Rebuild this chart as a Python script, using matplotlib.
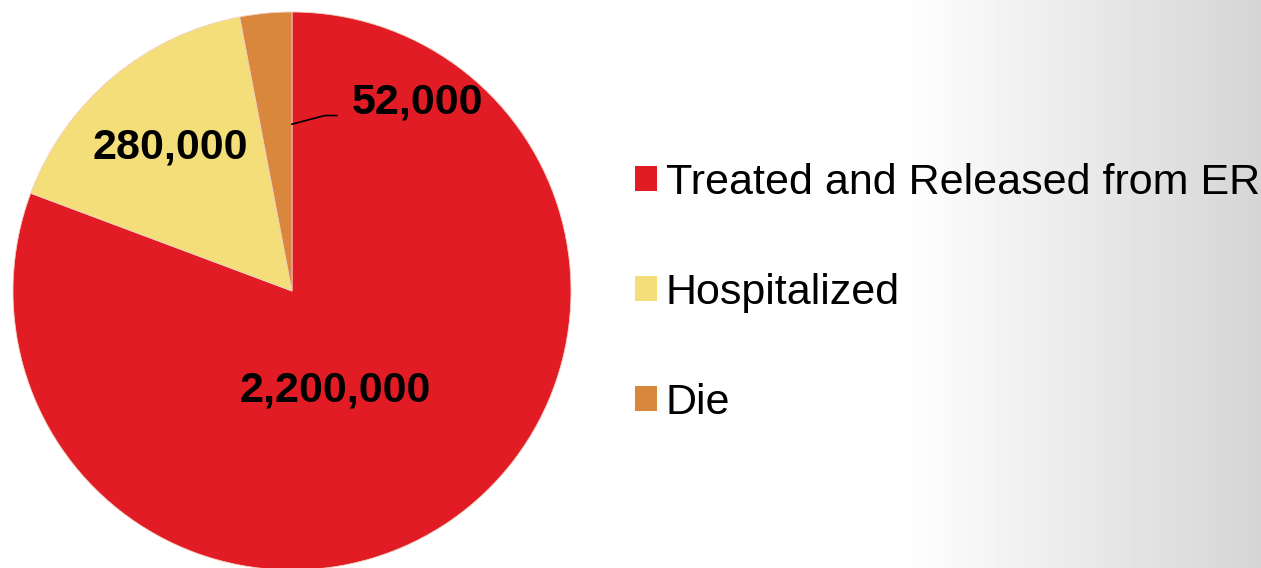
import numpy as np
import matplotlib
matplotlib.use("Agg")
import matplotlib.pyplot as plt
from matplotlib.patches import Patch

# ---- data ----
categories = ["Treated and Released from ER", "Hospitalized", "Die"]
value_labels = ["2,200,000", "280,000", "52,000"]
# slice shares as drawn in the reference (percent of the circle)
slice_percent = [80.7, 16.3, 3.0]
colors = ["#E21C24", "#F4DE7A", "#D9873D"]

plt.rcParams["font.family"] = ["Liberation Sans", "DejaVu Sans"]

W, H = 1261, 568
fig = plt.figure(figsize=(W / 100, H / 100), dpi=100)

# background gradient (white -> light grey on the right)
bg = fig.add_axes([0, 0, 1, 1], zorder=-10)
x = np.linspace(0, W, W)
start, end_val = 900.0, 0.835
t = np.clip((x - start) / (W - start), 0, 1)
vals = 1 - (1 - end_val) * t
img = np.tile(vals, (2, 1))
bg.imshow(img, cmap="gray", vmin=0, vmax=1, aspect="auto", extent=[0, 1, 0, 1])
bg.set_axis_off()

# pie axes, placed in pixel geometry
cx, cy, r = 292, 291, 279
ax = fig.add_axes([(cx - r) / W, (H - cy - r) / H, 2 * r / W, 2 * r / H])
wedges, _ = ax.pie(slice_percent, colors=colors, startangle=90, counterclock=False,
                   radius=1.0, wedgeprops=dict(edgecolor="#F2D0C0", linewidth=0.6))
ax.set_xlim(-1, 1)
ax.set_ylim(-1, 1)
ax.set_aspect("equal")
ax.set_axis_off()

label_pos = [(0.154, -0.355), (-0.437, 0.516), (0.448, 0.674)]
for (lx, ly), txt in zip(label_pos, value_labels):
    ax.text(lx, ly, txt, ha="center", va="center", fontsize=31, fontweight="bold", color="black")

# leader line for small slice
ax.plot([0.0, 0.118, 0.160], [0.598, 0.629, 0.629], color="black", lw=1.2, clip_on=False)

handles = [Patch(facecolor=c, edgecolor="none") for c in colors]
fig.legend(handles, categories, loc="center left",
           bbox_to_anchor=(635 / W, (H - 293) / H), bbox_transform=fig.transFigure,
           frameon=False, fontsize=31, handlelength=0.51, handleheight=0.51,
           handletextpad=0.2, labelspacing=1.63, borderpad=0, borderaxespad=0)

fig.savefig("out.png", dpi=100)
